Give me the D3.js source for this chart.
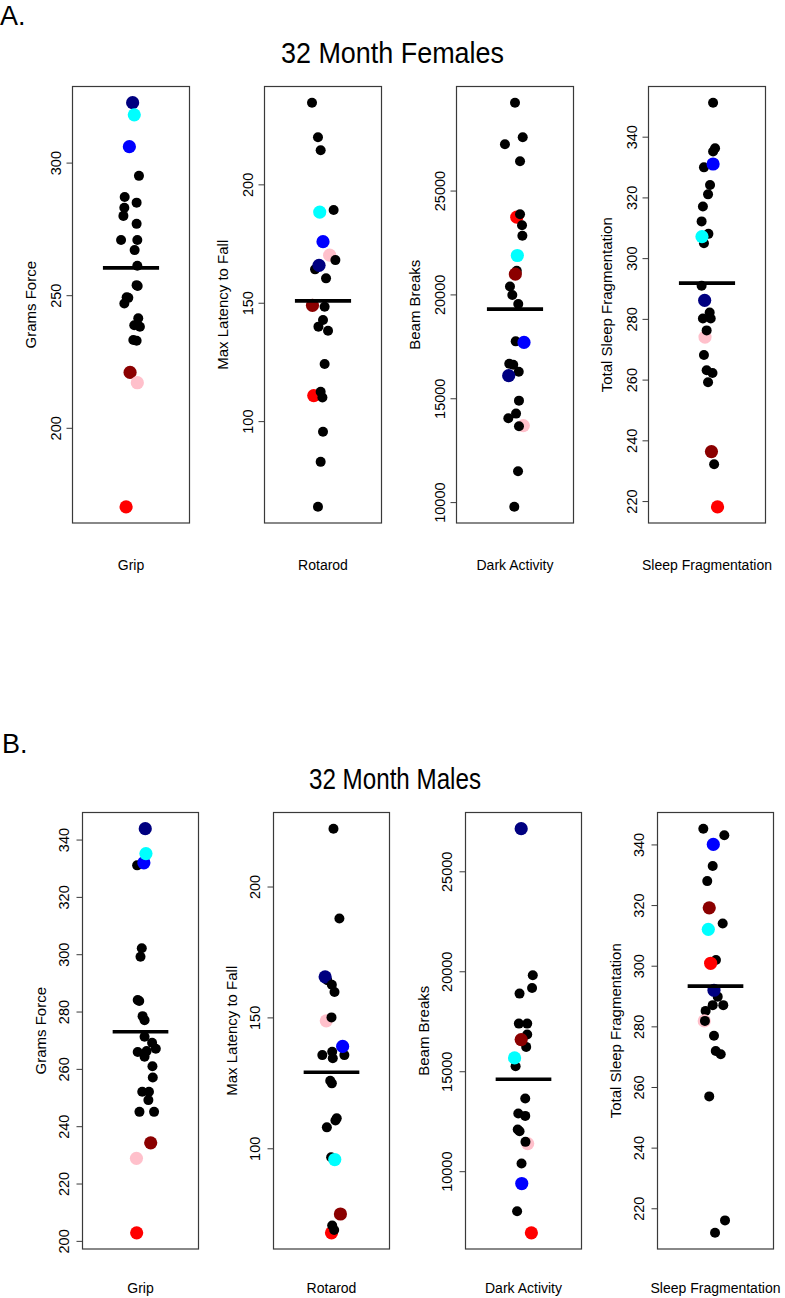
<!DOCTYPE html>
<html><head><meta charset="utf-8">
<script src="https://cdn.jsdelivr.net/npm/d3@7"></script>
<style>
body{margin:0;background:#fff}
svg{display:block}
text{font-family:"Liberation Sans",Arial,Helvetica,sans-serif;fill:#000}
</style>
</head><body>
<svg id="c" width="785" height="1298"></svg>
<script>
// ---------- DATA ----------
const categories = ["Grip", "Rotarod", "Dark Activity", "Sleep Fragmentation"];
const yLabels = ["Grams Force", "Max Latency to Fall", "Beam Breaks", "Total Sleep Fragmentation"];
const titles = ["32 Month Females", "32 Month Males"];
const panelLetters = ["A.", "B."];

// each point: [value, jitter (category units), mouse group]
const gripF = [[322.6,0.014,"navy"],[318.0,0.028,"cyan"],[306.0,-0.014,"blue"],[295.0,0.068,"k"],[287.0,-0.054,"k"],[284.9,0.048,"k"],[283.0,-0.057,"k"],[279.9,-0.065,"k"],[276.9,0.048,"k"],[270.8,-0.085,"k"],[270.8,0.054,"k"],[267.0,0.031,"k"],[261.1,0.054,"k"],[253.8,0.048,"k"],[253.5,0.057,"k"],[249.2,-0.037,"k"],[249.0,-0.023,"k"],[246.9,-0.057,"k"],[241.3,0.062,"k"],[238.7,0.028,"k"],[238.1,0.076,"k"],[233.1,0.020,"k"],[232.8,0.048,"k"],[220.9,-0.008,"darkred"],[217.0,0.054,"pink"],[170.2,-0.042,"red"]];
const rotarodF = [[110.8,-0.079,"red"],[234.5,-0.094,"k"],[219.9,-0.043,"k"],[214.4,-0.020,"k"],[188.3,-0.028,"cyan"],[189.2,0.091,"k"],[175.8,0.0,"blue"],[170.1,0.057,"pink"],[168.0,0.106,"k"],[164.1,-0.068,"k"],[165.8,-0.034,"navy"],[160.3,0.026,"k"],[148.9,-0.090,"darkred"],[148.3,0.014,"k"],[142.7,0.0,"k"],[139.9,-0.039,"k"],[138.2,0.043,"k"],[124.1,0.014,"k"],[112.4,-0.020,"k"],[110.0,-0.005,"k"],[95.5,0.0,"k"],[82.8,-0.020,"k"],[63.8,-0.043,"k"]];
const darkF = [[29232,0.0,"k"],[27565,0.066,"k"],[27228,-0.086,"k"],[26411,0.043,"k"],[23718,0.015,"red"],[23862,0.043,"k"],[23333,0.060,"k"],[22820,0.063,"k"],[21874,0.020,"cyan"],[21137,0.015,"k"],[20977,0.003,"darkred"],[20383,-0.043,"k"],[19968,-0.023,"k"],[19534,0.028,"k"],[17739,0.006,"k"],[17690,0.077,"blue"],[16664,-0.049,"k"],[16616,-0.015,"k"],[16280,0.032,"k"],[16087,-0.054,"navy"],[14885,0.034,"k"],[14260,0.009,"k"],[14036,-0.057,"k"],[13683,0.071,"pink"],[13651,0.034,"k"],[11487,0.026,"k"],[9772,-0.006,"k"]];
const sleepF = [[351.2,0.052,"k"],[336.2,0.069,"k"],[335.1,0.052,"k"],[329.9,-0.026,"k"],[331.0,0.052,"blue"],[324.1,0.026,"k"],[321.0,0.009,"k"],[317.0,-0.035,"k"],[312.1,-0.046,"k"],[308.0,0.012,"k"],[304.9,-0.026,"k"],[307.1,-0.043,"cyan"],[290.9,-0.046,"k"],[286.1,-0.020,"navy"],[282.1,0.023,"k"],[280.1,-0.035,"k"],[280.1,0.032,"k"],[274.0,-0.017,"pink"],[276.2,-0.003,"k"],[268.1,-0.026,"k"],[263.1,-0.003,"k"],[262.2,0.047,"k"],[259.1,0.009,"k"],[236.3,0.038,"darkred"],[232.1,0.061,"k"],[218.1,0.090,"red"]];

const gripM = [[331.0,-0.029,"k"],[331.9,0.029,"blue"],[335.1,0.047,"cyan"],[343.8,0.041,"navy"],[302.1,0.011,"k"],[299.1,0.0,"k"],[284.0,-0.024,"k"],[283.7,-0.011,"k"],[278.4,0.018,"k"],[277.0,0.035,"k"],[271.2,0.035,"k"],[269.1,0.100,"k"],[267.0,0.132,"k"],[265.9,-0.024,"k"],[266.2,0.053,"k"],[264.2,0.035,"k"],[260.9,0.103,"k"],[257.0,0.106,"k"],[252.0,0.015,"k"],[252.0,0.073,"k"],[249.1,0.068,"k"],[245.0,-0.009,"k"],[245.0,0.117,"k"],[234.2,0.088,"darkred"],[228.8,-0.035,"pink"],[202.8,-0.033,"red"]];
const rotarodM = [[67.7,0.0,"red"],[222.1,0.017,"k"],[187.8,0.068,"k"],[164.2,-0.036,"k"],[165.5,-0.055,"navy"],[162.5,0.003,"k"],[159.7,0.026,"k"],[148.7,-0.045,"pink"],[150.0,0.0,"k"],[136.9,0.006,"k"],[135.6,-0.079,"k"],[135.6,0.111,"k"],[134.4,0.011,"k"],[138.9,0.096,"blue"],[125.8,-0.011,"k"],[124.8,0.003,"k"],[111.5,0.045,"k"],[110.6,0.034,"k"],[108.0,-0.040,"k"],[96.6,-0.003,"k"],[95.7,0.028,"cyan"],[74.9,0.077,"darkred"],[70.5,0.006,"k"],[68.8,0.023,"k"]];
const darkM = [[27133,-0.020,"navy"],[19800,0.080,"k"],[19167,0.074,"k"],[18883,-0.034,"k"],[17383,-0.040,"k"],[17383,0.032,"k"],[16833,0.032,"k"],[16217,0.023,"k"],[16583,-0.020,"darkred"],[15250,-0.068,"k"],[15667,-0.077,"cyan"],[13633,0.015,"k"],[12883,-0.045,"k"],[12767,0.015,"k"],[12083,-0.050,"k"],[12000,-0.034,"k"],[11383,0.036,"pink"],[11467,0.017,"k"],[10383,-0.017,"k"],[9383,-0.015,"blue"],[8000,-0.055,"k"],[6917,0.068,"red"]];
const sleepM = [[345.2,-0.105,"k"],[343.0,0.076,"k"],[340.0,-0.019,"blue"],[332.9,-0.024,"k"],[327.9,-0.071,"k"],[319.1,-0.054,"darkred"],[313.9,0.062,"k"],[312.0,-0.062,"cyan"],[301.9,0.004,"k"],[300.8,-0.042,"red"],[289.8,0.019,"k"],[291.9,-0.013,"navy"],[287.0,-0.024,"k"],[287.0,0.067,"k"],[285.1,-0.085,"k"],[281.8,-0.097,"pink"],[281.8,-0.091,"k"],[276.9,-0.013,"k"],[271.9,0.002,"k"],[270.8,0.045,"k"],[256.9,-0.054,"k"],[216.0,0.082,"k"],[211.9,-0.004,"k"]];

const ticksGripF = [200, 250, 300];
const ticksRotarodF = [100, 150, 200];
const ticksDarkF = [10000, 15000, 20000, 25000];
const ticksSleepF = [220, 240, 260, 280, 300, 320, 340];
const ticksGripM = [200, 220, 240, 260, 280, 300, 320, 340];
const ticksRotarodM = [100, 150, 200];
const ticksDarkM = [10000, 15000, 20000, 25000];
const ticksSleepM = [220, 240, 260, 280, 300, 320, 340];

// ---------- STYLE / LAYOUT ----------
const colorMap = {k:"#000000", navy:"#000080", cyan:"#00FFFF", blue:"#0000FF", darkred:"#8B0000", pink:"#FFC0CB", red:"#FF0000"};
const rows = [
  {letter: panelLetters[0], letterX: 0, letterY: 25, title: titles[0], titleX: 392.5, titleY: 63, titleLen: 223, titleSize: 29,
   top: 86.5, bottom: 523, lefts: [72.5, 264.5, 456.5, 648.5], width: 117, tickOff: 12, catY: 570,
   data: [gripF, rotarodF, darkF, sleepF], ticks: [ticksGripF, ticksRotarodF, ticksDarkF, ticksSleepF]},
  {letter: panelLetters[1], letterX: 2, letterY: 753, title: titles[1], titleX: 395, titleY: 789, titleLen: 172, titleSize: 29,
   top: 812.5, bottom: 1249, lefts: [82.5, 273.5, 465.5, 657.5], width: 116, tickOff: 14, catY: 1293,
   data: [gripM, rotarodM, darkM, sleepM], ticks: [ticksGripM, ticksRotarodM, ticksDarkM, ticksSleepM]}
];

const svg = d3.select("#c");

rows.forEach(row => {
  svg.append("text").attr("x", row.letterX).attr("y", row.letterY)
    .attr("font-size", 27).text(row.letter);
  svg.append("text").attr("x", row.titleX).attr("y", row.titleY)
    .attr("text-anchor", "middle").attr("font-size", row.titleSize)
    .attr("textLength", row.titleLen).attr("lengthAdjust", "spacingAndGlyphs")
    .text(row.title);

  row.data.forEach((pts, i) => {
    const left = row.lefts[i], right = left + row.width;
    const vals = pts.map(d => d[0]);
    const [mn, mx] = d3.extent(vals);
    const pad = (mx - mn) * 0.04;
    const y = d3.scaleLinear().domain([mn - pad, mx + pad]).range([row.bottom, row.top]);
    const x = d3.scaleLinear().domain([0.5, 1.5]).range([left, right]);
    const g = svg.append("g");

    // points
    g.selectAll("circle").data(pts).enter().append("circle")
      .attr("cx", d => x(1 + d[1]))
      .attr("cy", d => y(d[0]))
      .attr("r", d => d[2] === "k" ? 5 : 6.6)
      .attr("fill", d => colorMap[d[2]]);

    // mean line
    const m = d3.mean(vals);
    g.append("line").attr("x1", x(1 - 0.24)).attr("x2", x(1 + 0.24))
      .attr("y1", y(m)).attr("y2", y(m))
      .attr("stroke", "#000").attr("stroke-width", 3.6);

    // box
    g.append("rect").attr("x", left).attr("y", row.top)
      .attr("width", row.width).attr("height", row.bottom - row.top)
      .attr("fill", "none").attr("stroke", "#3a3a3a").attr("stroke-width", 1.2);

    // y axis
    const ax = g.append("g").attr("transform", `translate(${left},0)`)
      .call(d3.axisLeft(y).tickValues(row.ticks[i]).tickSize(6).tickSizeOuter(0).tickFormat(d3.format("d")));
    ax.select(".domain").remove();
    ax.selectAll(".tick line").attr("stroke", "#3a3a3a").attr("stroke-width", 1);
    ax.selectAll(".tick text")
      .attr("font-family", '"Liberation Sans",Arial,sans-serif')
      .attr("font-size", 14.5)
      .attr("fill", "#000")
      .attr("transform", "rotate(-90)")
      .attr("x", 0).attr("y", -row.tickOff).attr("dy", 0)
      .attr("text-anchor", "middle");

    // axis title
    g.append("text")
      .attr("transform", `translate(${left - 37},${(row.top + row.bottom) / 2}) rotate(-90)`)
      .attr("text-anchor", "middle").attr("font-size", 15)
      .text(yLabels[i]);

    // category label
    g.append("text").attr("x", (left + right) / 2).attr("y", row.catY)
      .attr("text-anchor", "middle").attr("font-size", 14)
      .text(categories[i]);
  });
});
</script>
</body></html>
